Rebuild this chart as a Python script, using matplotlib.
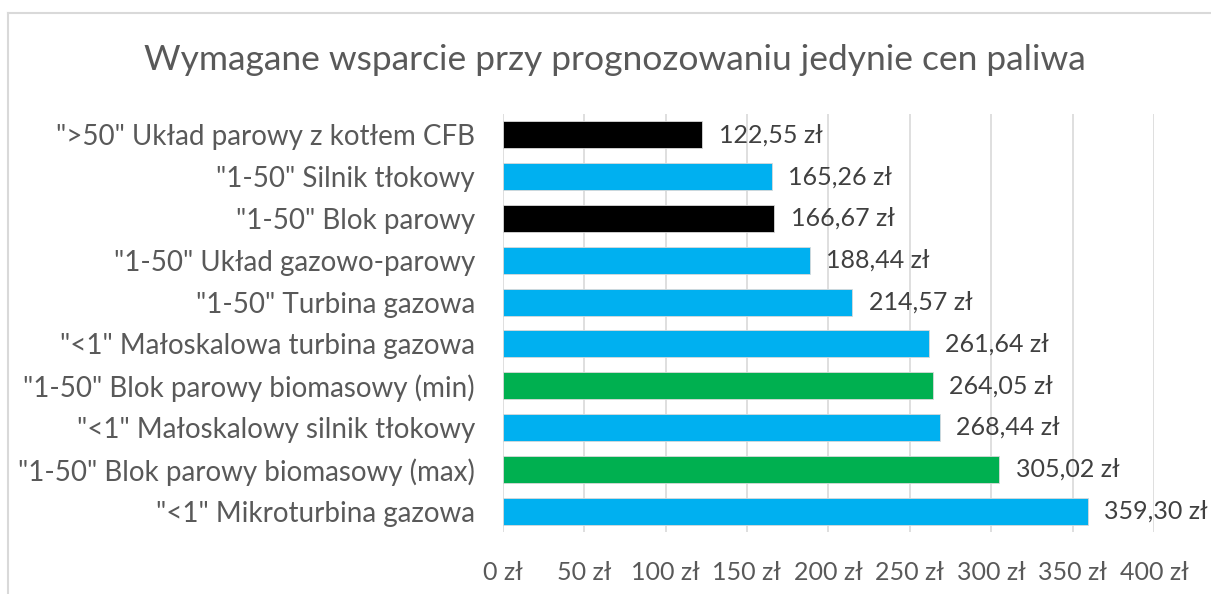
import matplotlib.pyplot as plt
from matplotlib.lines import Line2D

# Dane z wykresu (od góry do dołu)
kategorie = [
    '">50" Układ parowy z kotłem CFB',
    '"1-50" Silnik tłokowy',
    '"1-50" Blok parowy',
    '"1-50" Układ gazowo-parowy',
    '"1-50" Turbina gazowa',
    '"<1" Małoskalowa turbina gazowa',
    '"1-50" Blok parowy biomasowy (min)',
    '"<1" Małoskalowy silnik tłokowy',
    '"1-50" Blok parowy biomasowy (max)',
    '"<1" Mikroturbina gazowa',
]
wartosci = [122.55, 165.26, 166.67, 188.44, 214.57, 261.64, 264.05, 268.44, 305.02, 359.30]
grupy = ['czarny', 'niebieski', 'czarny', 'niebieski', 'niebieski',
         'niebieski', 'zielony', 'niebieski', 'zielony', 'niebieski']
ticki = [0, 50, 100, 150, 200, 250, 300, 350, 400]

kolory = {'czarny': '#000000', 'niebieski': '#00B0F0', 'zielony': '#00B050'}

plt.rcParams['font.family'] = ['Lato', 'DejaVu Sans']

fig = plt.figure(figsize=(12.11, 5.94), dpi=100)
ax = fig.add_axes([0.4151, 0.1044, 0.5378, 0.7037])

pozycje = list(range(len(kategorie)))
ax.barh(pozycje, wartosci, height=0.65,
        color=[kolory[g] for g in grupy],
        edgecolor='#d9d9d9', linewidth=0.6, zorder=3)

ax.set_ylim(len(kategorie) - 0.5, -0.5)
ax.set_xlim(0, 400)
ax.set_yticks(pozycje)
ax.set_yticklabels(kategorie, fontsize=20, color='#595959')
ax.set_xticks(ticki)
ax.set_xticklabels([f'{t} zł' for t in ticki], fontsize=18, color='#595959')
ax.tick_params(axis='y', length=0, pad=20)
ax.tick_params(axis='x', length=0, pad=21)

ax.grid(axis='x', color='#d9d9d9', linewidth=1.2, zorder=0)
for s in ax.spines.values():
    s.set_visible(False)

# etykiety wartości
for y, v in zip(pozycje, wartosci):
    tekst = f'{v:.2f}'.replace('.', ',') + ' zł'
    ax.annotate(tekst, (v, y), xytext=(12, 0), textcoords='offset points',
                va='center', ha='left', fontsize=18, color='#404040',
                annotation_clip=False)

fig.text(0.5075, 0.899, 'Wymagane wsparcie przy prognozowaniu jedynie cen paliwa',
         ha='center', va='center', fontsize=25.5, color='#595959')

# ramka wykresu (widoczna tylko z lewej i u góry)
fig.add_artist(Line2D([8 / 1211, 8 / 1211], [0, 1 - 13 / 594],
                      transform=fig.transFigure, color='#d9d9d9', lw=1.5))
fig.add_artist(Line2D([8 / 1211, 1], [1 - 13 / 594, 1 - 13 / 594],
                      transform=fig.transFigure, color='#d9d9d9', lw=1.5))

fig.savefig('out.png', dpi=100, facecolor='white')
